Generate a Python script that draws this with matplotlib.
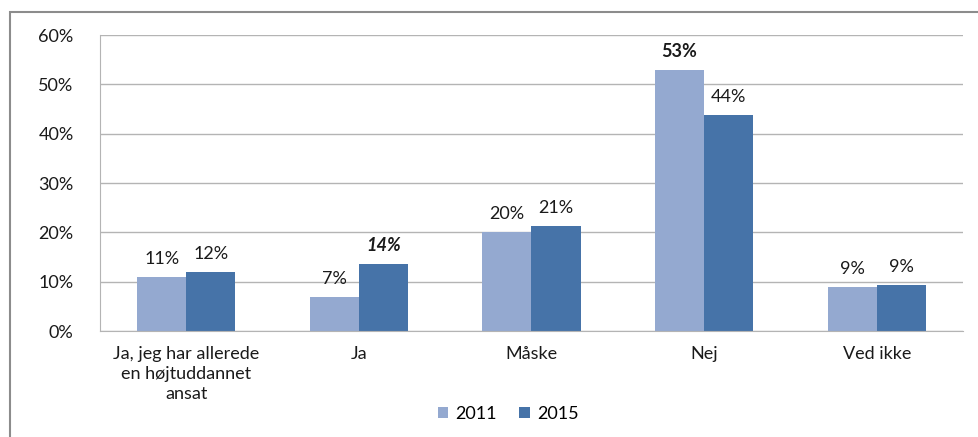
import numpy as np
import matplotlib.pyplot as plt
from matplotlib.patches import Rectangle

categories = ["Ja, jeg har allerede\nen højtuddannet\nansat", "Ja", "Måske", "Nej", "Ved ikke"]
vals_2011 = [11.0, 6.9, 20.1, 52.9, 8.9]
vals_2015 = [12.0, 13.6, 21.3, 43.8, 9.4]
series_names = ["2011", "2015"]
# label style per bar: (2011, 2015)
bold_2011 = [False, False, False, True, False]
bold_2015 = [False, True, False, False, False]
italic_2015 = [False, True, False, False, False]

c2011 = "#94A9D0"
c2015 = "#4673A8"
fs = 13

plt.rcParams['font.family'] = ['Lato', 'DejaVu Sans']

fig = plt.figure(figsize=(9.79, 4.37), dpi=100)
W, H = 979, 437

# outer chart border (cropped screenshot)
fig.patches.append(Rectangle((10 / W, -0.1), 1.2, (H - 12) / H + 0.1,
                             transform=fig.transFigure, fill=False,
                             edgecolor="#8C8C8C", linewidth=1.5))

ax = fig.add_axes([100 / W, 106 / H, 863 / W, 296 / H])

x = np.arange(len(categories))
bw = 0.285
b1 = ax.bar(x - bw / 2, vals_2011, bw, color=c2011, label=series_names[0])
b2 = ax.bar(x + bw / 2, vals_2015, bw, color=c2015, label=series_names[1])

for i, v in enumerate(vals_2011):
    ax.annotate(f"{round(v)}%", (x[i] - bw / 2, v), xytext=(0, 7),
                textcoords="offset points", ha="center", va="bottom",
                fontsize=fs, color="#1a1a1a",
                fontweight="bold" if bold_2011[i] else "normal")
for i, v in enumerate(vals_2015):
    ax.annotate(f"{round(v)}%", (x[i] + bw / 2, v), xytext=(0, 7),
                textcoords="offset points", ha="center", va="bottom",
                fontsize=fs, color="#1a1a1a",
                fontweight="bold" if bold_2015[i] else "normal",
                fontstyle="italic" if italic_2015[i] else "normal")

ax.set_xlim(-0.5, len(categories) - 0.5)
ax.set_ylim(0, 60)
ax.set_yticks(np.arange(0, 61, 10))
ax.set_yticklabels([f"{t}%" for t in range(0, 61, 10)])
ax.set_xticks(x)
ax.set_xticklabels(categories, linespacing=1.3)
ax.tick_params(axis="both", length=0, labelsize=fs, colors="#1a1a1a")
ax.tick_params(axis="y", pad=19)
ax.tick_params(axis="x", pad=11)

ax.grid(axis="y", color="#B4B4B4", linewidth=1)
ax.set_axisbelow(True)
for s in ["top", "right"]:
    ax.spines[s].set_visible(False)
ax.spines["left"].set_color("#B4B4B4")
ax.spines["bottom"].set_color("#B4B4B4")

fig.legend(handles=[b1, b2], loc="center", bbox_to_anchor=(508 / W, 1 - 414 / H),
           ncol=2, frameon=False, fontsize=fs, handlelength=0.6, handleheight=0.6,
           handletextpad=0.4, columnspacing=1.2)

fig.savefig("out.png", dpi=100)
